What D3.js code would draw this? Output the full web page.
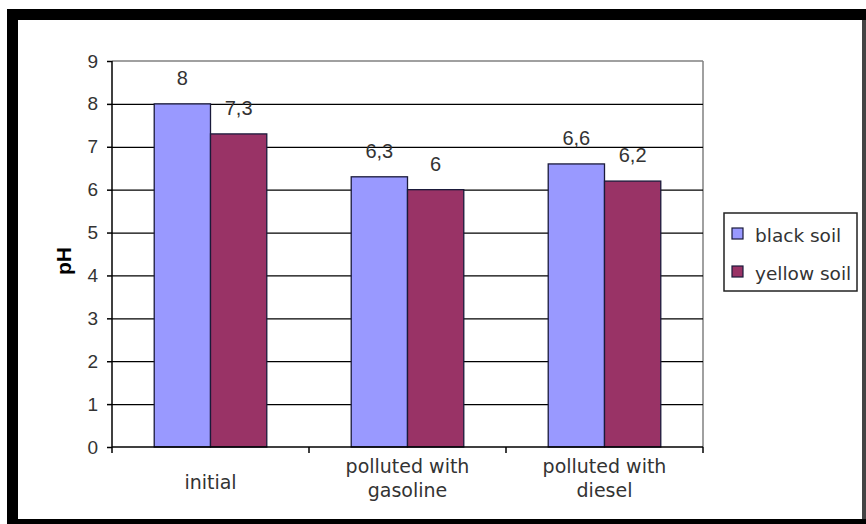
<!DOCTYPE html>
<html><head><meta charset="utf-8">
<script src="https://cdn.jsdelivr.net/npm/d3@7"></script>
<style>body{margin:0;background:#fff}svg{display:block}</style>
</head><body>
<svg id="c" width="866" height="524"></svg>
<script>
const categories = ["initial", "polluted with gasoline", "polluted with diesel"];
const categoryLines = [["initial"], ["polluted with", "gasoline"], ["polluted with", "diesel"]];
const seriesNames = ["black soil", "yellow soil"];
const blackSoil = [8, 6.3, 6.6];
const yellowSoil = [7.3, 6, 6.2];
const yTicks = [0, 1, 2, 3, 4, 5, 6, 7, 8, 9];
const colors = ["#9999FF", "#993366"];

const series = [blackSoil, yellowSoil];
const svg = d3.select("#c");

// frame
svg.append("rect").attr("x",7).attr("y",9).attr("width",859).attr("height",515).attr("fill","#000");
svg.append("rect").attr("x",862).attr("y",20).attr("width",4).attr("height",499).attr("fill","#444");
svg.append("rect").attr("x",18).attr("y",20).attr("width",844).attr("height",499).attr("fill","#fff");

const L = 112, R = 703, T = 61, B = 447;
const y = d3.scaleLinear().domain([0,9]).range([B,T]);
const x0 = d3.scaleBand().domain(categories).range([L,R]).paddingInner(0).paddingOuter(0);
const x1 = d3.scaleBand().domain(seriesNames).range([0,x0.bandwidth()]).paddingInner(0).paddingOuter(0.75);

// plot border top/right
svg.append("line").attr("x1",L).attr("x2",R).attr("y1",y(9)).attr("y2",y(9)).attr("stroke","#808080").attr("stroke-width",1.5);
svg.append("line").attr("x1",R).attr("x2",R).attr("y1",y(9)).attr("y2",y(0)).attr("stroke","#808080").attr("stroke-width",1.5);

// gridlines
const grid = svg.append("g").attr("transform",`translate(${L},0)`)
  .call(d3.axisLeft(y).tickValues(yTicks.slice(1,-1)).tickSize(-(R-L)).tickFormat(""));
grid.select(".domain").remove();
grid.selectAll("line").attr("stroke","#000").attr("stroke-width",1.3);

// bars
const fmt = v => String(v).replace(".", ",");
seriesNames.forEach((s, si) => {
  const g = svg.append("g");
  g.selectAll("rect").data(series[si]).join("rect")
    .attr("x",(d,i)=>x0(categories[i])+x1(s))
    .attr("y",d=>y(d))
    .attr("width",x1.bandwidth())
    .attr("height",d=>y(0)-y(d))
    .attr("fill",colors[si])
    .attr("stroke","#1a1a3a").attr("stroke-width",1.3);
  g.selectAll("text").data(series[si]).join("text")
    .attr("x",(d,i)=>x0(categories[i])+x1(s)+x1.bandwidth()/2)
    .attr("y",d=>y(d)-19)
    .attr("text-anchor","middle")
    .attr("font-family","Liberation Sans, Arial, sans-serif")
    .attr("font-size",20).attr("fill","#333")
    .text(d=>fmt(d));
});

// y axis
const ya = svg.append("g").attr("transform",`translate(${L},0)`)
  .call(d3.axisLeft(y).tickValues(yTicks).tickSize(5).tickPadding(9).tickFormat(d3.format("d")));
ya.select(".domain").attr("stroke","#000").attr("stroke-width",1.5).attr("d",`M0,${y(9)}V${y(0)}`);
ya.selectAll("line").attr("stroke","#000").attr("stroke-width",1.5);
ya.selectAll("text").attr("font-family","Liberation Sans, Arial, sans-serif").attr("font-size",19).attr("fill","#333");

// x axis
svg.append("line").attr("x1",L).attr("x2",R).attr("y1",B).attr("y2",B).attr("stroke","#000").attr("stroke-width",1.5);
const bounds = categories.map(c=>x0(c)).concat([x0(categories[categories.length-1])+x0.bandwidth()]);
svg.append("g").selectAll("line").data(bounds).join("line")
  .attr("x1",d=>d).attr("x2",d=>d).attr("y1",B).attr("y2",B+6).attr("stroke","#000").attr("stroke-width",1.5);
const xl = svg.append("g").selectAll("text").data(categories).join("text")
  .attr("text-anchor","middle")
  .attr("font-family","DejaVu Sans, sans-serif").attr("font-size",19).attr("fill","#333")
  .attr("transform",c=>`translate(${x0(c)+x0.bandwidth()/2},0)`);
xl.each(function(c,i){
  const lines = categoryLines[i];
  const t = d3.select(this);
  const startY = lines.length===1 ? 489 : 473;
  lines.forEach((ln,k)=>t.append("tspan").attr("x",0).attr("y",startY+k*24).text(ln));
});

// y title
svg.append("text").attr("transform","translate(71,261) rotate(-90)")
  .attr("text-anchor","middle").attr("font-family","Liberation Sans, Arial, sans-serif")
  .attr("font-weight","bold").attr("font-size",21).attr("fill","#000").text("pH");

// legend
const lg = svg.append("g");
lg.append("rect").attr("x",724).attr("y",213).attr("width",133).attr("height",78)
  .attr("fill","#fff").attr("stroke","#222").attr("stroke-width",1.5);
seriesNames.forEach((s,i)=>{
  const cy = 234 + i*38;
  lg.append("rect").attr("x",732).attr("y",cy-6).attr("width",11).attr("height",11)
    .attr("fill",colors[i]).attr("stroke","#1a1a3a").attr("stroke-width",1.2);
  lg.append("text").attr("x",755).attr("y",cy+8).attr("font-family","DejaVu Sans, sans-serif")
    .attr("font-size",18.5).attr("fill","#333").text(s);
});
</script>
</body></html>
